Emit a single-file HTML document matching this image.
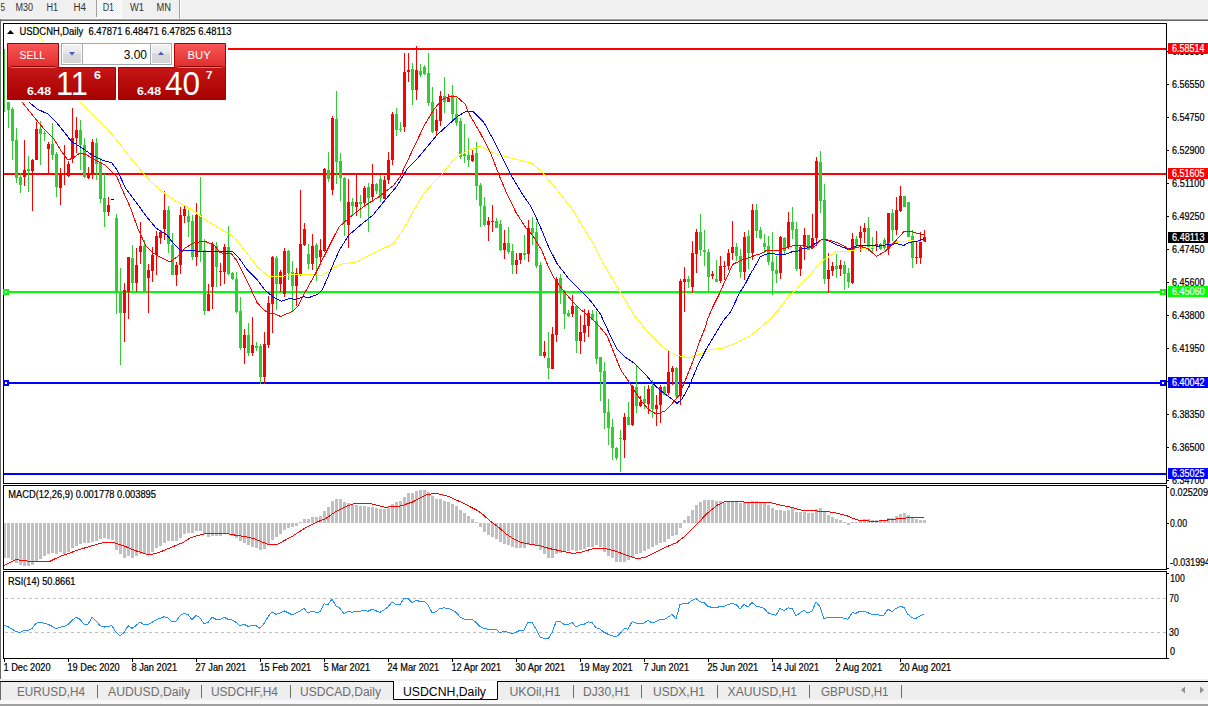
<!DOCTYPE html>
<html><head><meta charset="utf-8"><title>USDCNH,Daily</title>
<style>html,body{margin:0;padding:0;background:#fff;overflow:hidden;}svg{display:block;}</style>
</head><body>
<svg width="1208" height="706" viewBox="0 0 1208 706" font-family="'Liberation Sans', Arial, sans-serif"><rect x="0" y="0" width="1208" height="706" fill="#ffffff" />
<rect x="0" y="0" width="1208" height="18" fill="#f0f0f0" />
<rect x="0" y="18" width="1208" height="1" fill="#f7f7f7" />
<rect x="0" y="19" width="1208" height="1" fill="#a0a0a0" />
<rect x="0" y="20" width="1208" height="1" fill="#696969" />
<defs><pattern id="chk" x="0" y="0" width="2" height="2" patternUnits="userSpaceOnUse"><rect width="2" height="2" fill="#f0f0f0"/><rect width="1" height="1" fill="#ffffff"/><rect x="1" y="1" width="1" height="1" fill="#ffffff"/></pattern></defs>
<rect x="97" y="0" width="24" height="17" fill="url(#chk)" shape-rendering="crispEdges"/>
<rect x="121" y="0" width="1" height="18" fill="#ffffff" />
<rect x="96" y="17" width="26" height="1" fill="#ffffff" />
<rect x="96" y="0" width="1" height="17" fill="#a0a0a0" />
<rect x="179" y="0" width="1" height="19" fill="#a0a0a0" />
<rect x="180" y="0" width="1" height="19" fill="#ffffff" />
<text x="0.5" y="10.9" font-size="10" fill="#333" textLength="4.5" lengthAdjust="spacingAndGlyphs" >5</text>
<text x="15.5" y="10.9" font-size="10" fill="#333" textLength="17.5" lengthAdjust="spacingAndGlyphs" >M30</text>
<text x="46.5" y="10.9" font-size="10" fill="#333" textLength="11.5" lengthAdjust="spacingAndGlyphs" >H1</text>
<text x="73.5" y="10.9" font-size="10" fill="#333" textLength="12.5" lengthAdjust="spacingAndGlyphs" >H4</text>
<text x="102.7" y="10.9" font-size="10" fill="#333" textLength="11.3" lengthAdjust="spacingAndGlyphs" >D1</text>
<text x="130" y="10.9" font-size="10" fill="#333" textLength="14" lengthAdjust="spacingAndGlyphs" >W1</text>
<text x="156.5" y="10.9" font-size="10" fill="#333" textLength="14.5" lengthAdjust="spacingAndGlyphs" >MN</text>
<rect x="0" y="19" width="1" height="661" fill="#696969" />
<rect x="3.5" y="23.5" width="1163" height="460" fill="none" stroke="#000" stroke-width="1"/>
<rect x="3.5" y="485.5" width="1163" height="84" fill="none" stroke="#000" stroke-width="1"/>
<rect x="3.5" y="571.5" width="1163" height="87" fill="none" stroke="#000" stroke-width="1"/>
<defs><clipPath id="cm"><rect x="4" y="24" width="1162" height="459"/></clipPath><clipPath id="cd"><rect x="4" y="486" width="1162" height="83"/></clipPath><clipPath id="cr"><rect x="4" y="572" width="1162" height="86"/></clipPath></defs>
<g clip-path="url(#cm)" shape-rendering="crispEdges">
<rect x="226" y="48" width="941" height="2" fill="#ff0000" />
<rect x="4" y="173" width="1163" height="2" fill="#ff0000" />
<rect x="9" y="291" width="1151" height="2" fill="#00ff00" />
<rect x="9" y="382" width="1151" height="2" fill="#0000ff" />
<rect x="4" y="473" width="1163" height="2" fill="#0000ff" />
<g>
<rect x="8" y="102" width="1" height="26" fill="#32cd32" />
<rect x="7" y="102" width="3" height="8" fill="#32cd32" />
<rect x="12" y="107" width="1" height="53" fill="#32cd32" />
<rect x="11" y="109" width="3" height="32" fill="#32cd32" />
<rect x="16" y="128" width="1" height="55" fill="#32cd32" />
<rect x="15" y="140" width="3" height="38" fill="#32cd32" />
<rect x="20" y="173" width="1" height="20" fill="#32cd32" />
<rect x="19" y="177" width="3" height="8" fill="#32cd32" />
<rect x="24" y="140" width="1" height="46" fill="#ff0000" />
<rect x="23" y="170" width="3" height="7" fill="#ff0000" />
<rect x="28" y="156" width="1" height="36" fill="#32cd32" />
<rect x="27" y="169" width="3" height="2" fill="#32cd32" />
<rect x="32" y="159" width="1" height="52" fill="#ff0000" />
<rect x="31" y="160" width="3" height="11" fill="#ff0000" />
<rect x="36" y="122" width="1" height="38" fill="#ff0000" />
<rect x="35" y="129" width="3" height="31" fill="#ff0000" />
<rect x="40" y="121" width="1" height="44" fill="#32cd32" />
<rect x="39" y="129" width="3" height="5" fill="#32cd32" />
<rect x="44" y="131" width="1" height="10" fill="#32cd32" />
<rect x="43" y="133" width="3" height="1" fill="#32cd32" />
<rect x="48" y="142" width="1" height="31" fill="#ff0000" />
<rect x="47" y="144" width="3" height="5" fill="#ff0000" />
<rect x="52" y="123" width="1" height="37" fill="#32cd32" />
<rect x="51" y="144" width="3" height="11" fill="#32cd32" />
<rect x="56" y="152" width="1" height="45" fill="#32cd32" />
<rect x="55" y="154" width="3" height="33" fill="#32cd32" />
<rect x="60" y="168" width="1" height="37" fill="#ff0000" />
<rect x="59" y="174" width="3" height="14" fill="#ff0000" />
<rect x="64" y="145" width="1" height="40" fill="#ff0000" />
<rect x="63" y="174" width="3" height="1" fill="#ff0000" />
<rect x="68" y="161" width="1" height="16" fill="#ff0000" />
<rect x="67" y="164" width="3" height="12" fill="#ff0000" />
<rect x="72" y="108" width="1" height="55" fill="#ff0000" />
<rect x="71" y="138" width="3" height="21" fill="#ff0000" />
<rect x="76" y="117" width="1" height="36" fill="#ff0000" />
<rect x="75" y="130" width="3" height="8" fill="#ff0000" />
<rect x="80" y="120" width="1" height="50" fill="#32cd32" />
<rect x="79" y="130" width="3" height="15" fill="#32cd32" />
<rect x="84" y="138" width="1" height="40" fill="#32cd32" />
<rect x="83" y="145" width="3" height="32" fill="#32cd32" />
<rect x="88" y="167" width="1" height="12" fill="#ff0000" />
<rect x="87" y="173" width="3" height="5" fill="#ff0000" />
<rect x="92" y="139" width="1" height="40" fill="#ff0000" />
<rect x="91" y="142" width="3" height="32" fill="#ff0000" />
<rect x="96" y="138" width="1" height="42" fill="#32cd32" />
<rect x="95" y="143" width="3" height="21" fill="#32cd32" />
<rect x="100" y="158" width="1" height="45" fill="#32cd32" />
<rect x="99" y="162" width="3" height="37" fill="#32cd32" />
<rect x="104" y="174" width="1" height="53" fill="#32cd32" />
<rect x="103" y="198" width="3" height="14" fill="#32cd32" />
<rect x="108" y="197" width="1" height="19" fill="#ff0000" />
<rect x="107" y="205" width="3" height="7" fill="#ff0000" />
<rect x="116" y="214" width="1" height="100" fill="#32cd32" />
<rect x="115" y="218" width="3" height="75" fill="#32cd32" />
<rect x="120" y="268" width="1" height="97" fill="#32cd32" />
<rect x="119" y="293" width="3" height="20" fill="#32cd32" />
<rect x="124" y="283" width="1" height="59" fill="#ff0000" />
<rect x="123" y="290" width="3" height="23" fill="#ff0000" />
<rect x="128" y="257" width="1" height="62" fill="#ff0000" />
<rect x="127" y="257" width="3" height="35" fill="#ff0000" />
<rect x="132" y="245" width="1" height="47" fill="#32cd32" />
<rect x="131" y="258" width="3" height="25" fill="#32cd32" />
<rect x="136" y="248" width="1" height="44" fill="#ff0000" />
<rect x="135" y="265" width="3" height="18" fill="#ff0000" />
<rect x="140" y="222" width="1" height="42" fill="#ff0000" />
<rect x="139" y="246" width="3" height="6" fill="#ff0000" />
<rect x="144" y="240" width="1" height="53" fill="#32cd32" />
<rect x="143" y="246" width="3" height="46" fill="#32cd32" />
<rect x="148" y="264" width="1" height="49" fill="#ff0000" />
<rect x="147" y="270" width="3" height="8" fill="#ff0000" />
<rect x="152" y="247" width="1" height="35" fill="#ff0000" />
<rect x="151" y="255" width="3" height="16" fill="#ff0000" />
<rect x="156" y="231" width="1" height="44" fill="#ff0000" />
<rect x="155" y="236" width="3" height="19" fill="#ff0000" />
<rect x="160" y="230" width="1" height="14" fill="#ff0000" />
<rect x="159" y="232" width="3" height="6" fill="#ff0000" />
<rect x="164" y="191" width="1" height="49" fill="#ff0000" />
<rect x="163" y="210" width="3" height="19" fill="#ff0000" />
<rect x="168" y="206" width="1" height="47" fill="#32cd32" />
<rect x="167" y="210" width="3" height="34" fill="#32cd32" />
<rect x="172" y="233" width="1" height="42" fill="#32cd32" />
<rect x="171" y="245" width="3" height="30" fill="#32cd32" />
<rect x="176" y="262" width="1" height="24" fill="#ff0000" />
<rect x="175" y="265" width="3" height="10" fill="#ff0000" />
<rect x="180" y="207" width="1" height="67" fill="#ff0000" />
<rect x="179" y="215" width="3" height="50" fill="#ff0000" />
<rect x="184" y="206" width="1" height="17" fill="#ff0000" />
<rect x="183" y="209" width="3" height="7" fill="#ff0000" />
<rect x="188" y="210" width="1" height="27" fill="#32cd32" />
<rect x="187" y="216" width="3" height="6" fill="#32cd32" />
<rect x="192" y="215" width="1" height="45" fill="#32cd32" />
<rect x="191" y="221" width="3" height="36" fill="#32cd32" />
<rect x="196" y="203" width="1" height="63" fill="#ff0000" />
<rect x="195" y="215" width="3" height="42" fill="#ff0000" />
<rect x="200" y="177" width="1" height="85" fill="#32cd32" />
<rect x="199" y="215" width="3" height="36" fill="#32cd32" />
<rect x="204" y="239" width="1" height="76" fill="#32cd32" />
<rect x="203" y="250" width="3" height="61" fill="#32cd32" />
<rect x="208" y="284" width="1" height="27" fill="#ff0000" />
<rect x="207" y="294" width="3" height="17" fill="#ff0000" />
<rect x="212" y="242" width="1" height="67" fill="#ff0000" />
<rect x="211" y="245" width="3" height="42" fill="#ff0000" />
<rect x="216" y="242" width="1" height="45" fill="#32cd32" />
<rect x="215" y="246" width="3" height="21" fill="#32cd32" />
<rect x="220" y="263" width="1" height="23" fill="#ff0000" />
<rect x="219" y="271" width="3" height="1" fill="#ff0000" />
<rect x="224" y="244" width="1" height="40" fill="#ff0000" />
<rect x="223" y="247" width="3" height="25" fill="#ff0000" />
<rect x="228" y="226" width="1" height="49" fill="#32cd32" />
<rect x="227" y="247" width="3" height="27" fill="#32cd32" />
<rect x="232" y="272" width="1" height="8" fill="#32cd32" />
<rect x="231" y="273" width="3" height="6" fill="#32cd32" />
<rect x="236" y="272" width="1" height="41" fill="#32cd32" />
<rect x="235" y="279" width="3" height="33" fill="#32cd32" />
<rect x="240" y="297" width="1" height="53" fill="#32cd32" />
<rect x="239" y="311" width="3" height="37" fill="#32cd32" />
<rect x="244" y="329" width="1" height="35" fill="#ff0000" />
<rect x="243" y="335" width="3" height="13" fill="#ff0000" />
<rect x="248" y="323" width="1" height="33" fill="#32cd32" />
<rect x="247" y="335" width="3" height="18" fill="#32cd32" />
<rect x="252" y="317" width="1" height="39" fill="#ff0000" />
<rect x="251" y="345" width="3" height="8" fill="#ff0000" />
<rect x="256" y="342" width="1" height="9" fill="#32cd32" />
<rect x="255" y="346" width="3" height="2" fill="#32cd32" />
<rect x="260" y="344" width="1" height="40" fill="#32cd32" />
<rect x="259" y="346" width="3" height="31" fill="#32cd32" />
<rect x="264" y="332" width="1" height="52" fill="#ff0000" />
<rect x="263" y="344" width="3" height="33" fill="#ff0000" />
<rect x="268" y="296" width="1" height="52" fill="#ff0000" />
<rect x="267" y="303" width="3" height="42" fill="#ff0000" />
<rect x="272" y="256" width="1" height="77" fill="#ff0000" />
<rect x="271" y="257" width="3" height="47" fill="#ff0000" />
<rect x="276" y="256" width="1" height="54" fill="#32cd32" />
<rect x="275" y="258" width="3" height="26" fill="#32cd32" />
<rect x="280" y="270" width="1" height="22" fill="#ff0000" />
<rect x="279" y="272" width="3" height="12" fill="#ff0000" />
<rect x="284" y="248" width="1" height="49" fill="#ff0000" />
<rect x="283" y="251" width="3" height="43" fill="#ff0000" />
<rect x="288" y="250" width="1" height="30" fill="#32cd32" />
<rect x="287" y="251" width="3" height="22" fill="#32cd32" />
<rect x="292" y="261" width="1" height="51" fill="#32cd32" />
<rect x="291" y="272" width="3" height="14" fill="#32cd32" />
<rect x="296" y="268" width="1" height="38" fill="#ff0000" />
<rect x="295" y="273" width="3" height="13" fill="#ff0000" />
<rect x="300" y="190" width="1" height="86" fill="#ff0000" />
<rect x="299" y="244" width="3" height="31" fill="#ff0000" />
<rect x="304" y="223" width="1" height="23" fill="#ff0000" />
<rect x="303" y="229" width="3" height="16" fill="#ff0000" />
<rect x="308" y="244" width="1" height="25" fill="#32cd32" />
<rect x="307" y="254" width="3" height="10" fill="#32cd32" />
<rect x="312" y="234" width="1" height="36" fill="#ff0000" />
<rect x="311" y="246" width="3" height="18" fill="#ff0000" />
<rect x="316" y="243" width="1" height="38" fill="#32cd32" />
<rect x="315" y="245" width="3" height="13" fill="#32cd32" />
<rect x="320" y="239" width="1" height="24" fill="#ff0000" />
<rect x="319" y="250" width="3" height="7" fill="#ff0000" />
<rect x="324" y="168" width="1" height="84" fill="#ff0000" />
<rect x="323" y="169" width="3" height="82" fill="#ff0000" />
<rect x="328" y="152" width="1" height="30" fill="#32cd32" />
<rect x="327" y="170" width="3" height="9" fill="#32cd32" />
<rect x="332" y="116" width="1" height="79" fill="#ff0000" />
<rect x="331" y="118" width="3" height="72" fill="#ff0000" />
<rect x="336" y="91" width="1" height="93" fill="#32cd32" />
<rect x="335" y="119" width="3" height="43" fill="#32cd32" />
<rect x="340" y="153" width="1" height="48" fill="#32cd32" />
<rect x="339" y="161" width="3" height="17" fill="#32cd32" />
<rect x="344" y="177" width="1" height="59" fill="#32cd32" />
<rect x="343" y="178" width="3" height="44" fill="#32cd32" />
<rect x="348" y="179" width="1" height="69" fill="#ff0000" />
<rect x="347" y="202" width="3" height="23" fill="#ff0000" />
<rect x="352" y="198" width="1" height="18" fill="#32cd32" />
<rect x="351" y="202" width="3" height="4" fill="#32cd32" />
<rect x="356" y="175" width="1" height="41" fill="#ff0000" />
<rect x="355" y="202" width="3" height="5" fill="#ff0000" />
<rect x="360" y="195" width="1" height="23" fill="#32cd32" />
<rect x="359" y="202" width="3" height="2" fill="#32cd32" />
<rect x="364" y="186" width="1" height="21" fill="#ff0000" />
<rect x="363" y="188" width="3" height="15" fill="#ff0000" />
<rect x="368" y="183" width="1" height="49" fill="#32cd32" />
<rect x="367" y="187" width="3" height="11" fill="#32cd32" />
<rect x="372" y="164" width="1" height="38" fill="#ff0000" />
<rect x="371" y="184" width="3" height="13" fill="#ff0000" />
<rect x="376" y="183" width="1" height="11" fill="#32cd32" />
<rect x="375" y="184" width="3" height="7" fill="#32cd32" />
<rect x="380" y="175" width="1" height="27" fill="#32cd32" />
<rect x="379" y="179" width="3" height="19" fill="#32cd32" />
<rect x="384" y="176" width="1" height="23" fill="#ff0000" />
<rect x="383" y="180" width="3" height="19" fill="#ff0000" />
<rect x="388" y="152" width="1" height="32" fill="#ff0000" />
<rect x="387" y="160" width="3" height="20" fill="#ff0000" />
<rect x="392" y="112" width="1" height="53" fill="#ff0000" />
<rect x="391" y="114" width="3" height="46" fill="#ff0000" />
<rect x="396" y="108" width="1" height="28" fill="#32cd32" />
<rect x="395" y="114" width="3" height="16" fill="#32cd32" />
<rect x="400" y="122" width="1" height="10" fill="#32cd32" />
<rect x="399" y="129" width="3" height="1" fill="#32cd32" />
<rect x="404" y="53" width="1" height="79" fill="#ff0000" />
<rect x="403" y="72" width="3" height="55" fill="#ff0000" />
<rect x="408" y="53" width="1" height="29" fill="#ff0000" />
<rect x="407" y="70" width="3" height="2" fill="#ff0000" />
<rect x="412" y="63" width="1" height="42" fill="#32cd32" />
<rect x="411" y="69" width="3" height="21" fill="#32cd32" />
<rect x="416" y="46" width="1" height="54" fill="#ff0000" />
<rect x="415" y="70" width="3" height="20" fill="#ff0000" />
<rect x="420" y="64" width="1" height="13" fill="#32cd32" />
<rect x="419" y="71" width="3" height="4" fill="#32cd32" />
<rect x="424" y="65" width="1" height="10" fill="#32cd32" />
<rect x="423" y="67" width="3" height="7" fill="#32cd32" />
<rect x="428" y="53" width="1" height="53" fill="#32cd32" />
<rect x="427" y="73" width="3" height="30" fill="#32cd32" />
<rect x="432" y="87" width="1" height="46" fill="#32cd32" />
<rect x="431" y="102" width="3" height="30" fill="#32cd32" />
<rect x="436" y="109" width="1" height="26" fill="#ff0000" />
<rect x="435" y="120" width="3" height="11" fill="#ff0000" />
<rect x="440" y="91" width="1" height="35" fill="#ff0000" />
<rect x="439" y="96" width="3" height="25" fill="#ff0000" />
<rect x="444" y="77" width="1" height="36" fill="#32cd32" />
<rect x="443" y="96" width="3" height="6" fill="#32cd32" />
<rect x="448" y="94" width="1" height="8" fill="#ff0000" />
<rect x="447" y="98" width="3" height="4" fill="#ff0000" />
<rect x="452" y="85" width="1" height="36" fill="#32cd32" />
<rect x="451" y="95" width="3" height="19" fill="#32cd32" />
<rect x="456" y="98" width="1" height="28" fill="#32cd32" />
<rect x="455" y="114" width="3" height="9" fill="#32cd32" />
<rect x="460" y="118" width="1" height="41" fill="#32cd32" />
<rect x="459" y="121" width="3" height="36" fill="#32cd32" />
<rect x="464" y="124" width="1" height="39" fill="#32cd32" />
<rect x="463" y="154" width="3" height="2" fill="#32cd32" />
<rect x="468" y="138" width="1" height="29" fill="#32cd32" />
<rect x="467" y="155" width="3" height="5" fill="#32cd32" />
<rect x="472" y="150" width="1" height="12" fill="#ff0000" />
<rect x="471" y="155" width="3" height="6" fill="#ff0000" />
<rect x="476" y="142" width="1" height="58" fill="#32cd32" />
<rect x="475" y="153" width="3" height="33" fill="#32cd32" />
<rect x="480" y="183" width="1" height="44" fill="#32cd32" />
<rect x="479" y="185" width="3" height="21" fill="#32cd32" />
<rect x="484" y="197" width="1" height="29" fill="#32cd32" />
<rect x="483" y="206" width="3" height="19" fill="#32cd32" />
<rect x="488" y="217" width="1" height="24" fill="#ff0000" />
<rect x="487" y="221" width="3" height="4" fill="#ff0000" />
<rect x="492" y="205" width="1" height="27" fill="#ff0000" />
<rect x="491" y="221" width="3" height="1" fill="#ff0000" />
<rect x="496" y="218" width="1" height="10" fill="#32cd32" />
<rect x="495" y="221" width="3" height="7" fill="#32cd32" />
<rect x="500" y="220" width="1" height="31" fill="#32cd32" />
<rect x="499" y="224" width="3" height="26" fill="#32cd32" />
<rect x="504" y="230" width="1" height="29" fill="#ff0000" />
<rect x="503" y="243" width="3" height="7" fill="#ff0000" />
<rect x="508" y="227" width="1" height="27" fill="#32cd32" />
<rect x="507" y="243" width="3" height="9" fill="#32cd32" />
<rect x="512" y="244" width="1" height="30" fill="#32cd32" />
<rect x="511" y="251" width="3" height="14" fill="#32cd32" />
<rect x="516" y="253" width="1" height="21" fill="#ff0000" />
<rect x="515" y="260" width="3" height="5" fill="#ff0000" />
<rect x="520" y="253" width="1" height="11" fill="#ff0000" />
<rect x="519" y="253" width="3" height="7" fill="#ff0000" />
<rect x="524" y="235" width="1" height="25" fill="#32cd32" />
<rect x="523" y="253" width="3" height="2" fill="#32cd32" />
<rect x="528" y="220" width="1" height="42" fill="#ff0000" />
<rect x="527" y="228" width="3" height="26" fill="#ff0000" />
<rect x="532" y="217" width="1" height="28" fill="#32cd32" />
<rect x="531" y="228" width="3" height="5" fill="#32cd32" />
<rect x="536" y="222" width="1" height="46" fill="#32cd32" />
<rect x="535" y="232" width="3" height="34" fill="#32cd32" />
<rect x="540" y="262" width="1" height="94" fill="#32cd32" />
<rect x="539" y="265" width="3" height="91" fill="#32cd32" />
<rect x="544" y="341" width="1" height="17" fill="#ff0000" />
<rect x="543" y="352" width="3" height="4" fill="#ff0000" />
<rect x="548" y="332" width="1" height="47" fill="#32cd32" />
<rect x="547" y="358" width="3" height="10" fill="#32cd32" />
<rect x="552" y="327" width="1" height="42" fill="#ff0000" />
<rect x="551" y="334" width="3" height="35" fill="#ff0000" />
<rect x="556" y="277" width="1" height="65" fill="#ff0000" />
<rect x="555" y="279" width="3" height="56" fill="#ff0000" />
<rect x="560" y="274" width="1" height="30" fill="#32cd32" />
<rect x="559" y="278" width="3" height="14" fill="#32cd32" />
<rect x="564" y="290" width="1" height="39" fill="#32cd32" />
<rect x="563" y="292" width="3" height="22" fill="#32cd32" />
<rect x="568" y="310" width="1" height="7" fill="#32cd32" />
<rect x="567" y="313" width="3" height="3" fill="#32cd32" />
<rect x="572" y="295" width="1" height="22" fill="#ff0000" />
<rect x="571" y="306" width="3" height="8" fill="#ff0000" />
<rect x="576" y="305" width="1" height="48" fill="#32cd32" />
<rect x="575" y="306" width="3" height="35" fill="#32cd32" />
<rect x="580" y="315" width="1" height="39" fill="#ff0000" />
<rect x="579" y="332" width="3" height="9" fill="#ff0000" />
<rect x="584" y="309" width="1" height="33" fill="#ff0000" />
<rect x="583" y="325" width="3" height="8" fill="#ff0000" />
<rect x="588" y="310" width="1" height="27" fill="#ff0000" />
<rect x="587" y="313" width="3" height="13" fill="#ff0000" />
<rect x="592" y="310" width="1" height="10" fill="#32cd32" />
<rect x="591" y="314" width="3" height="6" fill="#32cd32" />
<rect x="596" y="311" width="1" height="53" fill="#32cd32" />
<rect x="595" y="321" width="3" height="38" fill="#32cd32" />
<rect x="600" y="357" width="1" height="44" fill="#32cd32" />
<rect x="599" y="357" width="3" height="15" fill="#32cd32" />
<rect x="604" y="362" width="1" height="67" fill="#32cd32" />
<rect x="603" y="371" width="3" height="42" fill="#32cd32" />
<rect x="608" y="399" width="1" height="46" fill="#32cd32" />
<rect x="607" y="412" width="3" height="16" fill="#32cd32" />
<rect x="612" y="419" width="1" height="41" fill="#32cd32" />
<rect x="611" y="427" width="3" height="21" fill="#32cd32" />
<rect x="616" y="447" width="1" height="13" fill="#32cd32" />
<rect x="615" y="448" width="3" height="10" fill="#32cd32" />
<rect x="620" y="430" width="1" height="42" fill="#32cd32" />
<rect x="619" y="438" width="3" height="1" fill="#32cd32" />
<rect x="624" y="413" width="1" height="45" fill="#ff0000" />
<rect x="623" y="417" width="3" height="23" fill="#ff0000" />
<rect x="628" y="402" width="1" height="23" fill="#32cd32" />
<rect x="627" y="417" width="3" height="8" fill="#32cd32" />
<rect x="632" y="385" width="1" height="41" fill="#ff0000" />
<rect x="631" y="386" width="3" height="39" fill="#ff0000" />
<rect x="636" y="366" width="1" height="47" fill="#32cd32" />
<rect x="635" y="387" width="3" height="19" fill="#32cd32" />
<rect x="640" y="396" width="1" height="11" fill="#ff0000" />
<rect x="639" y="402" width="3" height="4" fill="#ff0000" />
<rect x="644" y="386" width="1" height="23" fill="#32cd32" />
<rect x="643" y="399" width="3" height="4" fill="#32cd32" />
<rect x="648" y="385" width="1" height="29" fill="#ff0000" />
<rect x="647" y="389" width="3" height="15" fill="#ff0000" />
<rect x="652" y="380" width="1" height="38" fill="#32cd32" />
<rect x="651" y="386" width="3" height="23" fill="#32cd32" />
<rect x="656" y="395" width="1" height="31" fill="#ff0000" />
<rect x="655" y="405" width="3" height="4" fill="#ff0000" />
<rect x="660" y="385" width="1" height="38" fill="#ff0000" />
<rect x="659" y="387" width="3" height="18" fill="#ff0000" />
<rect x="664" y="386" width="1" height="9" fill="#32cd32" />
<rect x="663" y="387" width="3" height="8" fill="#32cd32" />
<rect x="668" y="350" width="1" height="45" fill="#ff0000" />
<rect x="667" y="372" width="3" height="21" fill="#ff0000" />
<rect x="672" y="366" width="1" height="19" fill="#ff0000" />
<rect x="671" y="368" width="3" height="4" fill="#ff0000" />
<rect x="676" y="367" width="1" height="30" fill="#32cd32" />
<rect x="675" y="368" width="3" height="28" fill="#32cd32" />
<rect x="680" y="279" width="1" height="126" fill="#ff0000" />
<rect x="679" y="281" width="3" height="115" fill="#ff0000" />
<rect x="684" y="267" width="1" height="45" fill="#ff0000" />
<rect x="683" y="279" width="3" height="3" fill="#ff0000" />
<rect x="688" y="276" width="1" height="12" fill="#32cd32" />
<rect x="687" y="279" width="3" height="3" fill="#32cd32" />
<rect x="692" y="241" width="1" height="52" fill="#ff0000" />
<rect x="691" y="253" width="3" height="34" fill="#ff0000" />
<rect x="696" y="229" width="1" height="44" fill="#ff0000" />
<rect x="695" y="232" width="3" height="22" fill="#ff0000" />
<rect x="700" y="214" width="1" height="42" fill="#32cd32" />
<rect x="699" y="232" width="3" height="18" fill="#32cd32" />
<rect x="704" y="230" width="1" height="36" fill="#32cd32" />
<rect x="703" y="250" width="3" height="2" fill="#32cd32" />
<rect x="708" y="249" width="1" height="43" fill="#32cd32" />
<rect x="707" y="252" width="3" height="25" fill="#32cd32" />
<rect x="712" y="271" width="1" height="8" fill="#ff0000" />
<rect x="711" y="274" width="3" height="2" fill="#ff0000" />
<rect x="716" y="260" width="1" height="22" fill="#32cd32" />
<rect x="715" y="279" width="3" height="3" fill="#32cd32" />
<rect x="720" y="256" width="1" height="27" fill="#ff0000" />
<rect x="719" y="266" width="3" height="15" fill="#ff0000" />
<rect x="724" y="261" width="1" height="19" fill="#ff0000" />
<rect x="723" y="266" width="3" height="1" fill="#ff0000" />
<rect x="728" y="249" width="1" height="21" fill="#ff0000" />
<rect x="727" y="253" width="3" height="13" fill="#ff0000" />
<rect x="732" y="221" width="1" height="39" fill="#ff0000" />
<rect x="731" y="247" width="3" height="6" fill="#ff0000" />
<rect x="736" y="243" width="1" height="18" fill="#32cd32" />
<rect x="735" y="247" width="3" height="9" fill="#32cd32" />
<rect x="740" y="249" width="1" height="29" fill="#32cd32" />
<rect x="739" y="256" width="3" height="16" fill="#32cd32" />
<rect x="744" y="232" width="1" height="48" fill="#ff0000" />
<rect x="743" y="237" width="3" height="35" fill="#ff0000" />
<rect x="748" y="230" width="1" height="39" fill="#32cd32" />
<rect x="747" y="236" width="3" height="17" fill="#32cd32" />
<rect x="752" y="204" width="1" height="56" fill="#ff0000" />
<rect x="751" y="210" width="3" height="43" fill="#ff0000" />
<rect x="756" y="204" width="1" height="34" fill="#32cd32" />
<rect x="755" y="210" width="3" height="21" fill="#32cd32" />
<rect x="760" y="227" width="1" height="12" fill="#32cd32" />
<rect x="759" y="230" width="3" height="8" fill="#32cd32" />
<rect x="764" y="234" width="1" height="19" fill="#32cd32" />
<rect x="763" y="243" width="3" height="4" fill="#32cd32" />
<rect x="768" y="236" width="1" height="29" fill="#32cd32" />
<rect x="767" y="246" width="3" height="16" fill="#32cd32" />
<rect x="772" y="232" width="1" height="63" fill="#32cd32" />
<rect x="771" y="262" width="3" height="9" fill="#32cd32" />
<rect x="776" y="256" width="1" height="27" fill="#32cd32" />
<rect x="775" y="270" width="3" height="4" fill="#32cd32" />
<rect x="780" y="236" width="1" height="43" fill="#ff0000" />
<rect x="779" y="237" width="3" height="36" fill="#ff0000" />
<rect x="784" y="237" width="1" height="17" fill="#32cd32" />
<rect x="783" y="238" width="3" height="13" fill="#32cd32" />
<rect x="788" y="212" width="1" height="37" fill="#ff0000" />
<rect x="787" y="222" width="3" height="25" fill="#ff0000" />
<rect x="792" y="207" width="1" height="32" fill="#32cd32" />
<rect x="791" y="222" width="3" height="8" fill="#32cd32" />
<rect x="796" y="222" width="1" height="49" fill="#32cd32" />
<rect x="795" y="229" width="3" height="40" fill="#32cd32" />
<rect x="800" y="246" width="1" height="30" fill="#ff0000" />
<rect x="799" y="247" width="3" height="22" fill="#ff0000" />
<rect x="804" y="228" width="1" height="32" fill="#ff0000" />
<rect x="803" y="235" width="3" height="12" fill="#ff0000" />
<rect x="808" y="235" width="1" height="15" fill="#32cd32" />
<rect x="807" y="235" width="3" height="15" fill="#32cd32" />
<rect x="812" y="214" width="1" height="34" fill="#ff0000" />
<rect x="811" y="238" width="3" height="10" fill="#ff0000" />
<rect x="816" y="157" width="1" height="89" fill="#ff0000" />
<rect x="815" y="161" width="3" height="77" fill="#ff0000" />
<rect x="820" y="151" width="1" height="62" fill="#32cd32" />
<rect x="819" y="162" width="3" height="39" fill="#32cd32" />
<rect x="824" y="184" width="1" height="100" fill="#32cd32" />
<rect x="823" y="200" width="3" height="79" fill="#32cd32" />
<rect x="828" y="253" width="1" height="40" fill="#ff0000" />
<rect x="827" y="270" width="3" height="9" fill="#ff0000" />
<rect x="832" y="262" width="1" height="14" fill="#ff0000" />
<rect x="831" y="266" width="3" height="5" fill="#ff0000" />
<rect x="836" y="254" width="1" height="24" fill="#32cd32" />
<rect x="835" y="266" width="3" height="3" fill="#32cd32" />
<rect x="840" y="260" width="1" height="16" fill="#ff0000" />
<rect x="839" y="265" width="3" height="4" fill="#ff0000" />
<rect x="844" y="261" width="1" height="29" fill="#32cd32" />
<rect x="843" y="265" width="3" height="9" fill="#32cd32" />
<rect x="848" y="268" width="1" height="20" fill="#32cd32" />
<rect x="847" y="273" width="3" height="9" fill="#32cd32" />
<rect x="852" y="233" width="1" height="51" fill="#ff0000" />
<rect x="851" y="239" width="3" height="44" fill="#ff0000" />
<rect x="856" y="236" width="1" height="11" fill="#32cd32" />
<rect x="855" y="239" width="3" height="6" fill="#32cd32" />
<rect x="860" y="226" width="1" height="26" fill="#ff0000" />
<rect x="859" y="232" width="3" height="6" fill="#ff0000" />
<rect x="864" y="223" width="1" height="20" fill="#ff0000" />
<rect x="863" y="228" width="3" height="4" fill="#ff0000" />
<rect x="868" y="217" width="1" height="34" fill="#32cd32" />
<rect x="867" y="228" width="3" height="19" fill="#32cd32" />
<rect x="872" y="237" width="1" height="17" fill="#32cd32" />
<rect x="871" y="247" width="3" height="2" fill="#32cd32" />
<rect x="876" y="231" width="1" height="20" fill="#ff0000" />
<rect x="875" y="244" width="3" height="3" fill="#ff0000" />
<rect x="880" y="243" width="1" height="7" fill="#32cd32" />
<rect x="879" y="244" width="3" height="5" fill="#32cd32" />
<rect x="884" y="238" width="1" height="12" fill="#32cd32" />
<rect x="883" y="240" width="3" height="8" fill="#32cd32" />
<rect x="888" y="213" width="1" height="42" fill="#ff0000" />
<rect x="887" y="213" width="3" height="36" fill="#ff0000" />
<rect x="892" y="209" width="1" height="32" fill="#32cd32" />
<rect x="891" y="213" width="3" height="17" fill="#32cd32" />
<rect x="896" y="197" width="1" height="38" fill="#ff0000" />
<rect x="895" y="210" width="3" height="20" fill="#ff0000" />
<rect x="900" y="186" width="1" height="26" fill="#ff0000" />
<rect x="899" y="196" width="3" height="15" fill="#ff0000" />
<rect x="904" y="196" width="1" height="11" fill="#32cd32" />
<rect x="903" y="196" width="3" height="11" fill="#32cd32" />
<rect x="908" y="202" width="1" height="35" fill="#32cd32" />
<rect x="907" y="202" width="3" height="35" fill="#32cd32" />
<rect x="912" y="230" width="1" height="38" fill="#32cd32" />
<rect x="911" y="236" width="3" height="22" fill="#32cd32" />
<rect x="916" y="242" width="1" height="22" fill="#ff0000" />
<rect x="915" y="257" width="3" height="1" fill="#ff0000" />
<rect x="920" y="232" width="1" height="32" fill="#ff0000" />
<rect x="919" y="241" width="3" height="17" fill="#ff0000" />
<rect x="924" y="230" width="1" height="12" fill="#ff0000" />
<rect x="923" y="237" width="3" height="5" fill="#ff0000" />
</g>
<rect x="4" y="49" width="1" height="63" fill="#32cd32" />
<rect x="111" y="199" width="3" height="1" fill="#000" />
</g>
<polyline points="33,24 42,40 80,102 92,114 105,127 116,139 129,156 143,173 153,184 163,192 177,202 185,206 194,211 207,221 221,229 234,237 245.5,251.5 258.3,268 268.5,276.4 277.4,277 290,275 303,274.4 314.4,274.2 320.8,275.5 328.4,272 334.8,266.8 342,264 356,262 366,257 380,250 393,244 403,230 414,210 424,193 434,182 444,172 454,159 460,154.6 470,149.5 480.4,146 494,153 511,158 531.4,163 541.6,171.6 558.6,192 572,209 582.4,226 593.6,244.2 603.8,264.6 614,281.6 624.2,298.6 634.4,315.6 648,332.6 661.6,346.3 675.2,354.8 688.8,358 699,354.8 709.3,349.7 722.9,348 736.5,342.9 750,336 760.3,327.6 769,320 779.3,309 789.5,295 795.9,290 804.8,279.7 809.9,275.9 816.3,267 822.7,260.6 827.8,257.4 830,256.1 835.9,251.7 847.8,251 858,249.6 868.1,247.9 878.3,246.2 888.5,244.2 898.7,242 908.9,240.8 919.1,241.2 924.2,242" fill="none" stroke="#ffff00" stroke-width="1" clip-path="url(#cm)" shape-rendering="crispEdges"/>
<polyline points="29,102 37,109 48,114 56,122 65,133 71,141 82,148 92,155 102,160 112,163 117,170 126,189 136,202 146,216 156,228 167,235 173,243 180,250 190,250.5 204,251.6 220,251.5 232.8,252 239,257.9 246.8,269.3 257,279.5 264.6,289.7 273.6,297.4 281.2,301.2 288.9,298.7 296.5,299.3 302.9,296.8 309.3,297.4 317,294.8 322,290.4 328.4,275.7 334.8,260.4 340,249 349,235 363,223 373,215 386,199 397,186 407,169 417,159 427,147 437,135 448,125 458,116 466.8,111 473.6,112 483.8,122.3 494,141 502.5,158 511,175 521,192 531.4,207.3 540,226 548.4,246.5 557,263.5 568.8,278.8 580,290 590,300.3 600.4,314 609,332.6 617.4,349.7 624.2,356.5 634.4,363.3 644.6,373.5 654.8,385.4 665,394 671.8,399 677,403.4 682,399 688.8,387 697.3,366.7 705.9,349.7 723.8,320 730.8,311.6 739.7,292.5 744.8,284.8 750,274.6 755,266.4 760.2,256.8 763.3,255.3 767.8,253.6 772.9,253.6 778,254.5 783.1,254.9 788.2,253.2 793.3,251.4 798.4,251 802.2,248.9 807.3,247.9 812.4,245.3 817.6,242.1 821.4,239.6 826.5,240 830,241.5 835.9,244.5 848.6,249.6 854.5,246.2 861.3,245.4 869.8,245.4 878.3,246.2 888.5,244.5 897,243.7 903.8,245.4 908.9,242.5 917.4,241.2 924.2,238.6" fill="none" stroke="#0000ff" stroke-width="1" clip-path="url(#cm)" shape-rendering="crispEdges"/>
<polyline points="22,102 34,117 44,129 54,139 61,151 68,160 73,158 80,153 87,155 95,160 105,165 112,172 117,177 122,189 131,209 138,229 146,246 153,253 160,257 170,262 177,257 185,248 194,243 204,241 214,245 220,252.8 231.5,254 236.6,260.4 243,273.2 250.6,288.5 257,302.5 263.4,309.5 268.5,313.3 274.8,314 280.6,316.5 286.3,314 292.7,311.4 297.8,306.3 303,296 309.3,284.6 315.7,273.2 322,260.4 328.4,247.7 332.2,240 339,227 349,218 359,210 369,203 380,196 386,191 393,186 400,177 407,162 415,145 424,126 434,109 443,99 451,96 456,96 465,104 470,115.5 480,132.5 490.6,153 499,175 507.6,195.4 516,212.4 524.6,226 533,236 541.6,250 548.4,267 553.5,277 562,289 572,301 580,309 590,317 600.4,327.6 607.2,336 614,353 620.8,370 627.6,380 634.4,390.5 641.2,400.7 648,409 656.5,414.3 665,411 671.8,404 678.6,395.6 685.4,380 692.2,363 699,343 705.9,325.9 707.2,320 713,306.5 719.3,293.8 724.4,282.3 728.3,274.6 730.8,268.3 733.4,263.8 738.5,261.9 743.6,259.3 750,257.4 756.3,254.9 761.4,253.6 766.5,250.4 771.6,250.4 776.7,251 781.8,249.1 786.9,247.9 792,246 798.4,245.3 803.5,245.9 808.6,247.2 812.4,248.5 816.3,244.7 820.1,240.2 825.2,239.2 830,240.5 837.6,242.8 844.4,246.2 849.5,249.6 854.5,248 861.3,246.6 868.1,248.8 876.6,256.4 885.1,251.3 895.3,241.2 903.8,231.8 912.3,231.8 917.4,233.5 924.2,234.4" fill="none" stroke="#ff0000" stroke-width="1" clip-path="url(#cm)" shape-rendering="crispEdges"/>
<rect x="3" y="289" width="6" height="6" fill="#00ff00" shape-rendering="crispEdges"/><rect x="5" y="291" width="2" height="2" fill="#fff" shape-rendering="crispEdges"/>
<rect x="1160" y="289" width="6" height="6" fill="#00ff00" shape-rendering="crispEdges"/><rect x="1162" y="291" width="2" height="2" fill="#fff" shape-rendering="crispEdges"/>
<rect x="3" y="380" width="6" height="6" fill="#0000ff" shape-rendering="crispEdges"/><rect x="5" y="382" width="2" height="2" fill="#fff" shape-rendering="crispEdges"/>
<rect x="1160" y="380" width="6" height="6" fill="#0000ff" shape-rendering="crispEdges"/><rect x="1162" y="382" width="2" height="2" fill="#fff" shape-rendering="crispEdges"/>
<rect x="1167" y="51" width="2" height="1" fill="#000" />
<text x="1172" y="55.0" font-size="10" fill="#000" stroke="#000" stroke-width="0.2" textLength="32.5" lengthAdjust="spacingAndGlyphs" >6.58350</text>
<rect x="1167" y="84" width="2" height="1" fill="#000" />
<text x="1172" y="88.0" font-size="10" fill="#000" stroke="#000" stroke-width="0.2" textLength="32.5" lengthAdjust="spacingAndGlyphs" >6.56550</text>
<rect x="1167" y="117" width="2" height="1" fill="#000" />
<text x="1172" y="120.5" font-size="10" fill="#000" stroke="#000" stroke-width="0.2" textLength="32.5" lengthAdjust="spacingAndGlyphs" >6.54750</text>
<rect x="1167" y="150" width="2" height="1" fill="#000" />
<text x="1172" y="154.0" font-size="10" fill="#000" stroke="#000" stroke-width="0.2" textLength="32.5" lengthAdjust="spacingAndGlyphs" >6.52900</text>
<rect x="1167" y="183" width="2" height="1" fill="#000" />
<text x="1172" y="186.5" font-size="10" fill="#000" stroke="#000" stroke-width="0.2" textLength="32.5" lengthAdjust="spacingAndGlyphs" >6.51100</text>
<rect x="1167" y="216" width="2" height="1" fill="#000" />
<text x="1172" y="220.0" font-size="10" fill="#000" stroke="#000" stroke-width="0.2" textLength="32.5" lengthAdjust="spacingAndGlyphs" >6.49250</text>
<rect x="1167" y="249" width="2" height="1" fill="#000" />
<text x="1172" y="252.5" font-size="10" fill="#000" stroke="#000" stroke-width="0.2" textLength="32.5" lengthAdjust="spacingAndGlyphs" >6.47450</text>
<rect x="1167" y="282" width="2" height="1" fill="#000" />
<text x="1172" y="286.0" font-size="10" fill="#000" stroke="#000" stroke-width="0.2" textLength="32.5" lengthAdjust="spacingAndGlyphs" >6.45600</text>
<rect x="1167" y="315" width="2" height="1" fill="#000" />
<text x="1172" y="318.5" font-size="10" fill="#000" stroke="#000" stroke-width="0.2" textLength="32.5" lengthAdjust="spacingAndGlyphs" >6.43800</text>
<rect x="1167" y="348" width="2" height="1" fill="#000" />
<text x="1172" y="352.0" font-size="10" fill="#000" stroke="#000" stroke-width="0.2" textLength="32.5" lengthAdjust="spacingAndGlyphs" >6.41950</text>
<rect x="1167" y="381" width="2" height="1" fill="#000" />
<text x="1172" y="384.5" font-size="10" fill="#000" stroke="#000" stroke-width="0.2" textLength="32.5" lengthAdjust="spacingAndGlyphs" >6.40150</text>
<rect x="1167" y="414" width="2" height="1" fill="#000" />
<text x="1172" y="417.5" font-size="10" fill="#000" stroke="#000" stroke-width="0.2" textLength="32.5" lengthAdjust="spacingAndGlyphs" >6.38350</text>
<rect x="1167" y="447" width="2" height="1" fill="#000" />
<text x="1172" y="450.5" font-size="10" fill="#000" stroke="#000" stroke-width="0.2" textLength="32.5" lengthAdjust="spacingAndGlyphs" >6.36500</text>
<rect x="1167" y="480" width="2" height="1" fill="#000" />
<text x="1172" y="483.5" font-size="10" fill="#000" stroke="#000" stroke-width="0.2" textLength="32.5" lengthAdjust="spacingAndGlyphs" >6.34700</text>
<rect x="1168" y="43" width="40" height="11" fill="#ff0000" />
<text x="1172" y="51.8" font-size="10" fill="#fff" stroke="#fff" stroke-width="0.2" textLength="32.5" lengthAdjust="spacingAndGlyphs" >6.58514</text>
<rect x="1168" y="168" width="40" height="11" fill="#ff0000" />
<text x="1172" y="176.8" font-size="10" fill="#fff" stroke="#fff" stroke-width="0.2" textLength="32.5" lengthAdjust="spacingAndGlyphs" >6.51605</text>
<rect x="1168" y="232" width="40" height="11" fill="#000000" />
<text x="1172" y="240.8" font-size="10" fill="#fff" stroke="#fff" stroke-width="0.2" textLength="32.5" lengthAdjust="spacingAndGlyphs" >6.48113</text>
<rect x="1168" y="286" width="40" height="11" fill="#00ff00" />
<text x="1172" y="294.8" font-size="10" fill="#fff" stroke="#fff" stroke-width="0.2" textLength="32.5" lengthAdjust="spacingAndGlyphs" >6.45060</text>
<rect x="1168" y="377" width="40" height="11" fill="#0000ff" />
<text x="1172" y="385.8" font-size="10" fill="#fff" stroke="#fff" stroke-width="0.2" textLength="32.5" lengthAdjust="spacingAndGlyphs" >6.40042</text>
<rect x="1168" y="468" width="40" height="11" fill="#0000ff" />
<text x="1172" y="476.8" font-size="10" fill="#fff" stroke="#fff" stroke-width="0.2" textLength="32.5" lengthAdjust="spacingAndGlyphs" >6.35025</text>
<path d="M7,34 L10.5,30 L14,34 Z" fill="#000"/>
<text x="19.5" y="35" font-size="10" fill="#000" stroke="#000" stroke-width="0.2" textLength="212" lengthAdjust="spacingAndGlyphs" >USDCNH,Daily&#160;&#160;6.47871 6.48471 6.47825 6.48113</text>
<g clip-path="url(#cd)" shape-rendering="crispEdges">
<rect x="3" y="523" width="3" height="35" fill="#c0c0c0" />
<rect x="7" y="523" width="3" height="35" fill="#c0c0c0" />
<rect x="11" y="523" width="3" height="37" fill="#c0c0c0" />
<rect x="15" y="523" width="3" height="40" fill="#c0c0c0" />
<rect x="19" y="523" width="3" height="42" fill="#c0c0c0" />
<rect x="23" y="523" width="3" height="43" fill="#c0c0c0" />
<rect x="27" y="523" width="3" height="43" fill="#c0c0c0" />
<rect x="31" y="523" width="3" height="42" fill="#c0c0c0" />
<rect x="35" y="523" width="3" height="38" fill="#c0c0c0" />
<rect x="39" y="523" width="3" height="36" fill="#c0c0c0" />
<rect x="43" y="523" width="3" height="33" fill="#c0c0c0" />
<rect x="47" y="523" width="3" height="31" fill="#c0c0c0" />
<rect x="51" y="523" width="3" height="30" fill="#c0c0c0" />
<rect x="55" y="523" width="3" height="31" fill="#c0c0c0" />
<rect x="59" y="523" width="3" height="29" fill="#c0c0c0" />
<rect x="63" y="523" width="3" height="31" fill="#c0c0c0" />
<rect x="67" y="523" width="3" height="29" fill="#c0c0c0" />
<rect x="71" y="523" width="3" height="25" fill="#c0c0c0" />
<rect x="75" y="523" width="3" height="23" fill="#c0c0c0" />
<rect x="79" y="523" width="3" height="21" fill="#c0c0c0" />
<rect x="83" y="523" width="3" height="20" fill="#c0c0c0" />
<rect x="87" y="523" width="3" height="20" fill="#c0c0c0" />
<rect x="91" y="523" width="3" height="19" fill="#c0c0c0" />
<rect x="95" y="523" width="3" height="18" fill="#c0c0c0" />
<rect x="99" y="523" width="3" height="16" fill="#c0c0c0" />
<rect x="103" y="523" width="3" height="15" fill="#c0c0c0" />
<rect x="107" y="523" width="3" height="16" fill="#c0c0c0" />
<rect x="111" y="523" width="3" height="17" fill="#c0c0c0" />
<rect x="115" y="523" width="3" height="27" fill="#c0c0c0" />
<rect x="119" y="523" width="3" height="31" fill="#c0c0c0" />
<rect x="123" y="523" width="3" height="35" fill="#c0c0c0" />
<rect x="127" y="523" width="3" height="33" fill="#c0c0c0" />
<rect x="131" y="523" width="3" height="35" fill="#c0c0c0" />
<rect x="135" y="523" width="3" height="33" fill="#c0c0c0" />
<rect x="139" y="523" width="3" height="31" fill="#c0c0c0" />
<rect x="143" y="523" width="3" height="31" fill="#c0c0c0" />
<rect x="147" y="523" width="3" height="31" fill="#c0c0c0" />
<rect x="151" y="523" width="3" height="29" fill="#c0c0c0" />
<rect x="155" y="523" width="3" height="25" fill="#c0c0c0" />
<rect x="159" y="523" width="3" height="23" fill="#c0c0c0" />
<rect x="163" y="523" width="3" height="20" fill="#c0c0c0" />
<rect x="167" y="523" width="3" height="18" fill="#c0c0c0" />
<rect x="171" y="523" width="3" height="18" fill="#c0c0c0" />
<rect x="175" y="523" width="3" height="18" fill="#c0c0c0" />
<rect x="179" y="523" width="3" height="15" fill="#c0c0c0" />
<rect x="183" y="523" width="3" height="11" fill="#c0c0c0" />
<rect x="187" y="523" width="3" height="10" fill="#c0c0c0" />
<rect x="191" y="523" width="3" height="10" fill="#c0c0c0" />
<rect x="195" y="523" width="3" height="8" fill="#c0c0c0" />
<rect x="199" y="523" width="3" height="8" fill="#c0c0c0" />
<rect x="203" y="523" width="3" height="11" fill="#c0c0c0" />
<rect x="207" y="523" width="3" height="14" fill="#c0c0c0" />
<rect x="211" y="523" width="3" height="13" fill="#c0c0c0" />
<rect x="215" y="523" width="3" height="13" fill="#c0c0c0" />
<rect x="219" y="523" width="3" height="13" fill="#c0c0c0" />
<rect x="223" y="523" width="3" height="11" fill="#c0c0c0" />
<rect x="227" y="523" width="3" height="11" fill="#c0c0c0" />
<rect x="231" y="523" width="3" height="13" fill="#c0c0c0" />
<rect x="235" y="523" width="3" height="15" fill="#c0c0c0" />
<rect x="239" y="523" width="3" height="18" fill="#c0c0c0" />
<rect x="243" y="523" width="3" height="20" fill="#c0c0c0" />
<rect x="247" y="523" width="3" height="22" fill="#c0c0c0" />
<rect x="251" y="523" width="3" height="24" fill="#c0c0c0" />
<rect x="255" y="523" width="3" height="25" fill="#c0c0c0" />
<rect x="259" y="523" width="3" height="27" fill="#c0c0c0" />
<rect x="263" y="523" width="3" height="26" fill="#c0c0c0" />
<rect x="267" y="523" width="3" height="22" fill="#c0c0c0" />
<rect x="271" y="523" width="3" height="17" fill="#c0c0c0" />
<rect x="275" y="523" width="3" height="14" fill="#c0c0c0" />
<rect x="279" y="523" width="3" height="11" fill="#c0c0c0" />
<rect x="283" y="523" width="3" height="7" fill="#c0c0c0" />
<rect x="287" y="523" width="3" height="5" fill="#c0c0c0" />
<rect x="291" y="523" width="3" height="4" fill="#c0c0c0" />
<rect x="295" y="523" width="3" height="3" fill="#c0c0c0" />
<rect x="299" y="522" width="3" height="1" fill="#c0c0c0" />
<rect x="303" y="519" width="3" height="4" fill="#c0c0c0" />
<rect x="307" y="519" width="3" height="4" fill="#c0c0c0" />
<rect x="311" y="517" width="3" height="6" fill="#c0c0c0" />
<rect x="315" y="517" width="3" height="6" fill="#c0c0c0" />
<rect x="319" y="516" width="3" height="7" fill="#c0c0c0" />
<rect x="323" y="511" width="3" height="12" fill="#c0c0c0" />
<rect x="327" y="507" width="3" height="16" fill="#c0c0c0" />
<rect x="331" y="501" width="3" height="22" fill="#c0c0c0" />
<rect x="335" y="499" width="3" height="24" fill="#c0c0c0" />
<rect x="339" y="499" width="3" height="24" fill="#c0c0c0" />
<rect x="343" y="502" width="3" height="21" fill="#c0c0c0" />
<rect x="347" y="503" width="3" height="20" fill="#c0c0c0" />
<rect x="351" y="505" width="3" height="18" fill="#c0c0c0" />
<rect x="355" y="505" width="3" height="18" fill="#c0c0c0" />
<rect x="359" y="506" width="3" height="17" fill="#c0c0c0" />
<rect x="363" y="506" width="3" height="17" fill="#c0c0c0" />
<rect x="367" y="507" width="3" height="16" fill="#c0c0c0" />
<rect x="371" y="507" width="3" height="16" fill="#c0c0c0" />
<rect x="375" y="508" width="3" height="15" fill="#c0c0c0" />
<rect x="379" y="509" width="3" height="14" fill="#c0c0c0" />
<rect x="383" y="509" width="3" height="14" fill="#c0c0c0" />
<rect x="387" y="508" width="3" height="15" fill="#c0c0c0" />
<rect x="391" y="504" width="3" height="19" fill="#c0c0c0" />
<rect x="395" y="502" width="3" height="21" fill="#c0c0c0" />
<rect x="399" y="501" width="3" height="22" fill="#c0c0c0" />
<rect x="403" y="497" width="3" height="26" fill="#c0c0c0" />
<rect x="407" y="493" width="3" height="30" fill="#c0c0c0" />
<rect x="411" y="493" width="3" height="30" fill="#c0c0c0" />
<rect x="415" y="491" width="3" height="32" fill="#c0c0c0" />
<rect x="419" y="490" width="3" height="33" fill="#c0c0c0" />
<rect x="423" y="490" width="3" height="33" fill="#c0c0c0" />
<rect x="427" y="492" width="3" height="31" fill="#c0c0c0" />
<rect x="431" y="496" width="3" height="27" fill="#c0c0c0" />
<rect x="435" y="499" width="3" height="24" fill="#c0c0c0" />
<rect x="439" y="499" width="3" height="24" fill="#c0c0c0" />
<rect x="443" y="501" width="3" height="22" fill="#c0c0c0" />
<rect x="447" y="502" width="3" height="21" fill="#c0c0c0" />
<rect x="451" y="504" width="3" height="19" fill="#c0c0c0" />
<rect x="455" y="506" width="3" height="17" fill="#c0c0c0" />
<rect x="459" y="510" width="3" height="13" fill="#c0c0c0" />
<rect x="463" y="513" width="3" height="10" fill="#c0c0c0" />
<rect x="467" y="516" width="3" height="7" fill="#c0c0c0" />
<rect x="471" y="519" width="3" height="4" fill="#c0c0c0" />
<rect x="475" y="522" width="3" height="1" fill="#c0c0c0" />
<rect x="479" y="523" width="3" height="4" fill="#c0c0c0" />
<rect x="483" y="523" width="3" height="9" fill="#c0c0c0" />
<rect x="487" y="523" width="3" height="12" fill="#c0c0c0" />
<rect x="491" y="523" width="3" height="14" fill="#c0c0c0" />
<rect x="495" y="523" width="3" height="16" fill="#c0c0c0" />
<rect x="499" y="523" width="3" height="19" fill="#c0c0c0" />
<rect x="503" y="523" width="3" height="21" fill="#c0c0c0" />
<rect x="507" y="523" width="3" height="22" fill="#c0c0c0" />
<rect x="511" y="523" width="3" height="24" fill="#c0c0c0" />
<rect x="515" y="523" width="3" height="25" fill="#c0c0c0" />
<rect x="519" y="523" width="3" height="25" fill="#c0c0c0" />
<rect x="523" y="523" width="3" height="25" fill="#c0c0c0" />
<rect x="527" y="523" width="3" height="22" fill="#c0c0c0" />
<rect x="531" y="523" width="3" height="22" fill="#c0c0c0" />
<rect x="535" y="523" width="3" height="22" fill="#c0c0c0" />
<rect x="539" y="523" width="3" height="27" fill="#c0c0c0" />
<rect x="543" y="523" width="3" height="31" fill="#c0c0c0" />
<rect x="547" y="523" width="3" height="35" fill="#c0c0c0" />
<rect x="551" y="523" width="3" height="35" fill="#c0c0c0" />
<rect x="555" y="523" width="3" height="31" fill="#c0c0c0" />
<rect x="559" y="523" width="3" height="30" fill="#c0c0c0" />
<rect x="563" y="523" width="3" height="28" fill="#c0c0c0" />
<rect x="567" y="523" width="3" height="28" fill="#c0c0c0" />
<rect x="571" y="523" width="3" height="27" fill="#c0c0c0" />
<rect x="575" y="523" width="3" height="28" fill="#c0c0c0" />
<rect x="579" y="523" width="3" height="27" fill="#c0c0c0" />
<rect x="583" y="523" width="3" height="26" fill="#c0c0c0" />
<rect x="587" y="523" width="3" height="24" fill="#c0c0c0" />
<rect x="591" y="523" width="3" height="24" fill="#c0c0c0" />
<rect x="595" y="523" width="3" height="22" fill="#c0c0c0" />
<rect x="599" y="523" width="3" height="24" fill="#c0c0c0" />
<rect x="603" y="523" width="3" height="29" fill="#c0c0c0" />
<rect x="607" y="523" width="3" height="33" fill="#c0c0c0" />
<rect x="611" y="523" width="3" height="35" fill="#c0c0c0" />
<rect x="615" y="523" width="3" height="39" fill="#c0c0c0" />
<rect x="619" y="523" width="3" height="39" fill="#c0c0c0" />
<rect x="623" y="523" width="3" height="39" fill="#c0c0c0" />
<rect x="627" y="523" width="3" height="37" fill="#c0c0c0" />
<rect x="631" y="523" width="3" height="35" fill="#c0c0c0" />
<rect x="635" y="523" width="3" height="31" fill="#c0c0c0" />
<rect x="639" y="523" width="3" height="30" fill="#c0c0c0" />
<rect x="643" y="523" width="3" height="28" fill="#c0c0c0" />
<rect x="647" y="523" width="3" height="26" fill="#c0c0c0" />
<rect x="651" y="523" width="3" height="24" fill="#c0c0c0" />
<rect x="655" y="523" width="3" height="22" fill="#c0c0c0" />
<rect x="659" y="523" width="3" height="20" fill="#c0c0c0" />
<rect x="663" y="523" width="3" height="19" fill="#c0c0c0" />
<rect x="667" y="523" width="3" height="16" fill="#c0c0c0" />
<rect x="671" y="523" width="3" height="13" fill="#c0c0c0" />
<rect x="675" y="523" width="3" height="12" fill="#c0c0c0" />
<rect x="679" y="523" width="3" height="5" fill="#c0c0c0" />
<rect x="683" y="520" width="3" height="3" fill="#c0c0c0" />
<rect x="687" y="516" width="3" height="7" fill="#c0c0c0" />
<rect x="691" y="510" width="3" height="13" fill="#c0c0c0" />
<rect x="695" y="505" width="3" height="18" fill="#c0c0c0" />
<rect x="699" y="502" width="3" height="21" fill="#c0c0c0" />
<rect x="703" y="500" width="3" height="23" fill="#c0c0c0" />
<rect x="707" y="500" width="3" height="23" fill="#c0c0c0" />
<rect x="711" y="500" width="3" height="23" fill="#c0c0c0" />
<rect x="715" y="501" width="3" height="22" fill="#c0c0c0" />
<rect x="719" y="501" width="3" height="22" fill="#c0c0c0" />
<rect x="723" y="503" width="3" height="20" fill="#c0c0c0" />
<rect x="727" y="502" width="3" height="21" fill="#c0c0c0" />
<rect x="731" y="502" width="3" height="21" fill="#c0c0c0" />
<rect x="735" y="502" width="3" height="21" fill="#c0c0c0" />
<rect x="739" y="503" width="3" height="20" fill="#c0c0c0" />
<rect x="743" y="502" width="3" height="21" fill="#c0c0c0" />
<rect x="747" y="502" width="3" height="21" fill="#c0c0c0" />
<rect x="751" y="501" width="3" height="22" fill="#c0c0c0" />
<rect x="755" y="501" width="3" height="22" fill="#c0c0c0" />
<rect x="759" y="503" width="3" height="20" fill="#c0c0c0" />
<rect x="763" y="503" width="3" height="20" fill="#c0c0c0" />
<rect x="767" y="505" width="3" height="18" fill="#c0c0c0" />
<rect x="771" y="508" width="3" height="15" fill="#c0c0c0" />
<rect x="775" y="510" width="3" height="13" fill="#c0c0c0" />
<rect x="779" y="510" width="3" height="13" fill="#c0c0c0" />
<rect x="783" y="511" width="3" height="12" fill="#c0c0c0" />
<rect x="787" y="510" width="3" height="13" fill="#c0c0c0" />
<rect x="791" y="508" width="3" height="15" fill="#c0c0c0" />
<rect x="795" y="512" width="3" height="11" fill="#c0c0c0" />
<rect x="799" y="512" width="3" height="11" fill="#c0c0c0" />
<rect x="803" y="512" width="3" height="11" fill="#c0c0c0" />
<rect x="807" y="513" width="3" height="10" fill="#c0c0c0" />
<rect x="811" y="513" width="3" height="10" fill="#c0c0c0" />
<rect x="815" y="509" width="3" height="14" fill="#c0c0c0" />
<rect x="819" y="508" width="3" height="15" fill="#c0c0c0" />
<rect x="823" y="512" width="3" height="11" fill="#c0c0c0" />
<rect x="827" y="515" width="3" height="8" fill="#c0c0c0" />
<rect x="831" y="517" width="3" height="6" fill="#c0c0c0" />
<rect x="835" y="519" width="3" height="4" fill="#c0c0c0" />
<rect x="839" y="520" width="3" height="3" fill="#c0c0c0" />
<rect x="843" y="522" width="3" height="1" fill="#c0c0c0" />
<rect x="847" y="523" width="3" height="2" fill="#c0c0c0" />
<rect x="851" y="522" width="3" height="1" fill="#c0c0c0" />
<rect x="855" y="522" width="3" height="1" fill="#c0c0c0" />
<rect x="859" y="520" width="3" height="3" fill="#c0c0c0" />
<rect x="863" y="519" width="3" height="4" fill="#c0c0c0" />
<rect x="867" y="519" width="3" height="4" fill="#c0c0c0" />
<rect x="871" y="520" width="3" height="3" fill="#c0c0c0" />
<rect x="875" y="520" width="3" height="3" fill="#c0c0c0" />
<rect x="879" y="520" width="3" height="3" fill="#c0c0c0" />
<rect x="883" y="520" width="3" height="3" fill="#c0c0c0" />
<rect x="887" y="518" width="3" height="5" fill="#c0c0c0" />
<rect x="891" y="518" width="3" height="5" fill="#c0c0c0" />
<rect x="895" y="516" width="3" height="7" fill="#c0c0c0" />
<rect x="899" y="514" width="3" height="9" fill="#c0c0c0" />
<rect x="903" y="513" width="3" height="10" fill="#c0c0c0" />
<rect x="907" y="515" width="3" height="8" fill="#c0c0c0" />
<rect x="911" y="518" width="3" height="5" fill="#c0c0c0" />
<rect x="915" y="519" width="3" height="4" fill="#c0c0c0" />
<rect x="919" y="520" width="3" height="3" fill="#c0c0c0" />
<rect x="923" y="520" width="3" height="3" fill="#c0c0c0" />
</g>
<polyline points="4,565.6 15,559.9 26.5,560.2 27.3,561.5 49.5,561.5 54.6,559 60,556.5 79.5,549.5 91.4,546 103.3,542.6 113.3,542.6 123.2,545.6 135,550.5 149,555 159,552.5 171,547.5 182.8,542.6 190.7,537.6 202.7,534.2 210.6,533.2 224.5,533.2 232.5,534.6 238,535.7 244,536.3 253.9,538.6 267.8,544.2 277.7,544.2 291.6,536.7 305.6,527.7 317.5,521.8 325.4,518.8 335.4,511.8 347.3,505.9 355.2,503.3 369.1,503.3 385,507.3 401,505.9 412.8,501.9 426.7,494.5 436.7,493.3 448.6,496.5 460.5,501.9 468.5,505.9 478,510.8 482,513.8 490,520.8 497.9,526.7 505.8,533.7 513.8,539 521.7,542.6 531.6,544.6 539.6,545.6 549.5,548.6 561.4,551 573.4,553.5 581.3,552.2 593.2,548.6 605.2,548.6 617,551.6 627,555.5 637,558.5 644.9,557.5 652.8,553.5 664.8,547.6 676.7,542.6 686.6,534.7 696.6,524.7 706.5,513.8 718,504.7 726,501.3 741.8,501.3 745.8,502.5 769.7,502.5 781.6,505.3 793.5,507.8 799.5,509.8 807.4,510.8 825.3,511.2 837.2,513.2 847.1,515.8 855.1,519.2 861,520.8 877,521.2 884.9,520.4 892.8,519.2 904.8,518.4 908.7,517.2 923.6,517.2" fill="none" stroke="#ff0000" stroke-width="1" clip-path="url(#cd)" shape-rendering="crispEdges"/>
<text x="8.3" y="498" font-size="10" fill="#000" stroke="#000" stroke-width="0.2" textLength="147.7" lengthAdjust="spacingAndGlyphs" >MACD(12,26,9) 0.001778 0.003895</text>
<rect x="1167" y="487" width="2" height="1" fill="#000" />
<text x="1170" y="495.5" font-size="10" fill="#000" stroke="#000" stroke-width="0.2" textLength="38" lengthAdjust="spacingAndGlyphs" >0.025209</text>
<rect x="1167" y="523" width="2" height="1" fill="#000" />
<text x="1170" y="527.2" font-size="10" fill="#000" stroke="#000" stroke-width="0.2" textLength="17" lengthAdjust="spacingAndGlyphs" >0.00</text>
<rect x="1167" y="568" width="2" height="1" fill="#000" />
<text x="1170" y="566" font-size="10" fill="#000" stroke="#000" stroke-width="0.2" textLength="40" lengthAdjust="spacingAndGlyphs" >-0.031994</text>
<line x1="5" y1="598.5" x2="1166" y2="598.5" stroke="#c0c0c0" stroke-width="1" stroke-dasharray="3,3"/>
<line x1="5" y1="632.5" x2="1166" y2="632.5" stroke="#c0c0c0" stroke-width="1" stroke-dasharray="3,3"/>
<polyline points="4,625.3 8,626.7 12,629.1 16,631.7 20,632.3 24,630.7 28,630.3 32,628.7 36,623.1 40,622.8 44,623.1 48,624.3 52,626.3 56,628.7 60,627.1 64,626.7 68,624.7 72,620.4 76,617.2 80,619.2 84,624.3 88,624.3 92,617.2 96,620.8 100,625.7 104,627.1 108,626.3 112,625.7 116,632.3 120,635.7 124,632.7 128,625.7 132,628.3 136,625.7 140,621.8 144,624.7 148,624.7 152,622.4 156,619.8 160,618.4 164,616.8 168,617.8 172,621.8 176,621.2 180,615.8 184,613.4 188,614.4 192,619.8 196,615.2 200,617.8 204,623.7 208,622.4 212,617.2 216,619.2 220,619.8 224,617.2 228,619.2 232,619.8 236,622.4 240,625.7 244,624.3 248,626.3 252,625.7 256,625.7 260,628.3 264,623.7 268,616.8 272,611.8 276,614.4 280,613.2 284,610.8 288,612.8 292,614.8 296,613.2 300,610.8 304,608.4 308,613.2 312,611.2 316,612.4 320,611.8 324,603.9 328,604.5 332,599.3 336,605.9 340,608.4 344,613.8 348,611.2 352,612.4 356,611.2 360,611.2 364,610.4 368,611.2 372,609.2 376,610.8 380,612.4 384,609.8 388,606.9 392,601.9 396,604.5 400,604.5 404,598.5 408,598.5 412,602.5 416,600.5 420,601.3 424,601.3 428,604.9 432,612.4 436,611.8 440,608.4 444,607.9 448,608.4 452,609.8 456,612.4 460,616.8 464,619.2 468,619.8 472,619.2 476,622.4 480,626.3 484,628.7 488,629.1 492,629.1 496,629.1 500,632.7 504,631.1 508,632.3 512,633.7 516,632.3 520,630.3 524,630.3 528,622.4 532,622.4 536,629.1 540,637.1 544,638.2 548,639 552,632.7 556,621.8 560,621.2 564,624.3 568,624.3 572,622.4 576,627.1 580,625.1 584,624.3 588,621.8 592,622.4 596,627.7 600,629.1 604,632.3 608,634.3 612,635.7 616,637.1 620,633.7 624,628.7 628,629.1 632,621.8 636,623.1 640,623.1 644,623.1 648,620.4 652,623.1 656,621.8 660,619.2 664,619.8 668,617.2 672,614.4 676,618.8 680,604.5 684,603.3 688,603.3 692,600.5 696,598.5 700,601.9 704,602.5 708,606.5 712,607.3 716,607.9 720,606.5 724,606.5 728,604.5 732,603.3 736,604.5 740,608.8 744,604.5 748,606.9 752,602.5 756,605.9 760,606.9 764,608.4 768,612.8 772,614.4 776,615.2 780,608.4 784,610.8 788,607.9 792,608.4 796,615.8 800,612.8 804,610.4 808,613.2 812,611.2 816,601.9 820,606.9 824,618.8 828,617.2 832,617.2 836,617.2 840,617.2 844,618.4 848,619.2 852,612.8 856,613.2 860,611.2 864,611.2 868,612.8 872,614.4 876,614.4 880,615.2 884,615.2 888,608.8 892,611.8 896,608.4 900,606.5 904,607.3 908,614.4 912,617.8 916,618.4 920,615.8 924,614.4" fill="none" stroke="#1e90ff" stroke-width="1" clip-path="url(#cr)" shape-rendering="crispEdges"/>
<text x="7.9" y="584.5" font-size="10" fill="#000" stroke="#000" stroke-width="0.2" textLength="67.6" lengthAdjust="spacingAndGlyphs" >RSI(14) 50.8661</text>
<rect x="1167" y="573" width="2" height="1" fill="#000" />
<text x="1170.3" y="581.8" font-size="10" fill="#000" stroke="#000" stroke-width="0.2" textLength="14.4" lengthAdjust="spacingAndGlyphs" >100</text>
<text x="1169.2" y="601.8" font-size="10" fill="#000" stroke="#000" stroke-width="0.2" textLength="9.5" lengthAdjust="spacingAndGlyphs" >70</text>
<text x="1169" y="635.7" font-size="10" fill="#000" stroke="#000" stroke-width="0.2" textLength="9.8" lengthAdjust="spacingAndGlyphs" >30</text>
<rect x="1167" y="658" width="2" height="1" fill="#000" />
<text x="1170" y="654.6" font-size="10" fill="#000" stroke="#000" stroke-width="0.2" textLength="5" lengthAdjust="spacingAndGlyphs" >0</text>
<rect x="4" y="659" width="1" height="3" fill="#000" />
<text x="3.5" y="671" font-size="10" fill="#000" stroke="#000" stroke-width="0.2" textLength="47.1" lengthAdjust="spacingAndGlyphs" >1 Dec 2020</text>
<rect x="68" y="659" width="1" height="3" fill="#000" />
<text x="67.5" y="671" font-size="10" fill="#000" stroke="#000" stroke-width="0.2" textLength="52.2" lengthAdjust="spacingAndGlyphs" >19 Dec 2020</text>
<rect x="132" y="659" width="1" height="3" fill="#000" />
<text x="131.5" y="671" font-size="10" fill="#000" stroke="#000" stroke-width="0.2" textLength="45.5" lengthAdjust="spacingAndGlyphs" >8 Jan 2021</text>
<rect x="196" y="659" width="1" height="3" fill="#000" />
<text x="195.5" y="671" font-size="10" fill="#000" stroke="#000" stroke-width="0.2" textLength="50.7" lengthAdjust="spacingAndGlyphs" >27 Jan 2021</text>
<rect x="260" y="659" width="1" height="3" fill="#000" />
<text x="259.5" y="671" font-size="10" fill="#000" stroke="#000" stroke-width="0.2" textLength="51.7" lengthAdjust="spacingAndGlyphs" >15 Feb 2021</text>
<rect x="324" y="659" width="1" height="3" fill="#000" />
<text x="323.5" y="671" font-size="10" fill="#000" stroke="#000" stroke-width="0.2" textLength="46.5" lengthAdjust="spacingAndGlyphs" >5 Mar 2021</text>
<rect x="388" y="659" width="1" height="3" fill="#000" />
<text x="387.5" y="671" font-size="10" fill="#000" stroke="#000" stroke-width="0.2" textLength="51.7" lengthAdjust="spacingAndGlyphs" >24 Mar 2021</text>
<rect x="452" y="659" width="1" height="3" fill="#000" />
<text x="451.5" y="671" font-size="10" fill="#000" stroke="#000" stroke-width="0.2" textLength="49.6" lengthAdjust="spacingAndGlyphs" >12 Apr 2021</text>
<rect x="516" y="659" width="1" height="3" fill="#000" />
<text x="515.5" y="671" font-size="10" fill="#000" stroke="#000" stroke-width="0.2" textLength="49.6" lengthAdjust="spacingAndGlyphs" >30 Apr 2021</text>
<rect x="580" y="659" width="1" height="3" fill="#000" />
<text x="579.5" y="671" font-size="10" fill="#000" stroke="#000" stroke-width="0.2" textLength="53.2" lengthAdjust="spacingAndGlyphs" >19 May 2021</text>
<rect x="644" y="659" width="1" height="3" fill="#000" />
<text x="643.5" y="671" font-size="10" fill="#000" stroke="#000" stroke-width="0.2" textLength="45.5" lengthAdjust="spacingAndGlyphs" >7 Jun 2021</text>
<rect x="708" y="659" width="1" height="3" fill="#000" />
<text x="707.5" y="671" font-size="10" fill="#000" stroke="#000" stroke-width="0.2" textLength="50.7" lengthAdjust="spacingAndGlyphs" >25 Jun 2021</text>
<rect x="772" y="659" width="1" height="3" fill="#000" />
<text x="771.5" y="671" font-size="10" fill="#000" stroke="#000" stroke-width="0.2" textLength="47.6" lengthAdjust="spacingAndGlyphs" >14 Jul 2021</text>
<rect x="836" y="659" width="1" height="3" fill="#000" />
<text x="835.5" y="671" font-size="10" fill="#000" stroke="#000" stroke-width="0.2" textLength="46.6" lengthAdjust="spacingAndGlyphs" >2 Aug 2021</text>
<rect x="900" y="659" width="1" height="3" fill="#000" />
<text x="899.5" y="671" font-size="10" fill="#000" stroke="#000" stroke-width="0.2" textLength="51.7" lengthAdjust="spacingAndGlyphs" >20 Aug 2021</text>
<rect x="0" y="679" width="1208" height="1" fill="#f0f0f0" />
<rect x="0" y="680" width="1208" height="1" fill="#f0f0f0" />
<rect x="0" y="681" width="1208" height="1" fill="#000000" />
<rect x="0" y="682" width="1208" height="18" fill="#eeeeee" />
<rect x="0" y="700" width="1208" height="4" fill="#f8f8f8" />
<rect x="0" y="704" width="1208" height="2" fill="#a0a0a0" />
<rect x="0" y="682" width="1" height="18" fill="#696969" />
<text x="17" y="696" font-size="12" fill="#6d6d6d" textLength="68" lengthAdjust="spacingAndGlyphs" >EURUSD,H4</text>
<text x="108" y="696" font-size="12" fill="#6d6d6d" textLength="82" lengthAdjust="spacingAndGlyphs" >AUDUSD,Daily</text>
<text x="211" y="696" font-size="12" fill="#6d6d6d" textLength="67" lengthAdjust="spacingAndGlyphs" >USDCHF,H4</text>
<text x="300" y="696" font-size="12" fill="#6d6d6d" textLength="81" lengthAdjust="spacingAndGlyphs" >USDCAD,Daily</text>
<text x="509.5" y="696" font-size="12" fill="#6d6d6d" textLength="51" lengthAdjust="spacingAndGlyphs" >UKOil,H1</text>
<text x="583" y="696" font-size="12" fill="#6d6d6d" textLength="47" lengthAdjust="spacingAndGlyphs" >DJ30,H1</text>
<text x="653" y="696" font-size="12" fill="#6d6d6d" textLength="52" lengthAdjust="spacingAndGlyphs" >USDX,H1</text>
<text x="727.6" y="696" font-size="12" fill="#6d6d6d" textLength="69.5" lengthAdjust="spacingAndGlyphs" >XAUUSD,H1</text>
<text x="821" y="696" font-size="12" fill="#6d6d6d" textLength="67.6" lengthAdjust="spacingAndGlyphs" >GBPUSD,H1</text>
<rect x="97" y="685" width="1" height="13" fill="#6d6d6d" />
<rect x="201" y="685" width="1" height="13" fill="#6d6d6d" />
<rect x="290" y="685" width="1" height="13" fill="#6d6d6d" />
<rect x="573" y="685" width="1" height="13" fill="#6d6d6d" />
<rect x="641" y="685" width="1" height="13" fill="#6d6d6d" />
<rect x="717" y="685" width="1" height="13" fill="#6d6d6d" />
<rect x="809" y="685" width="1" height="13" fill="#6d6d6d" />
<rect x="901" y="685" width="1" height="13" fill="#6d6d6d" />
<rect x="393" y="681" width="105" height="19" fill="#ffffff" />
<path d="M393.5,681 V699.5 H497.5 V681" fill="none" stroke="#000" stroke-width="1"/>
<text x="403" y="696" font-size="12" fill="#000" textLength="83" lengthAdjust="spacingAndGlyphs" >USDCNH,Daily</text>
<path d="M1181,690 L1185,686.5 L1185,693.5 Z" fill="#909090"/>
<path d="M1204,690 L1200,686.5 L1200,693.5 Z" fill="#909090"/>
<defs><linearGradient id="gtab" x1="0" y1="0" x2="0" y2="1"><stop offset="0" stop-color="#f85656"/><stop offset="1" stop-color="#e02c2c"/></linearGradient><linearGradient id="gbox" x1="0" y1="0" x2="0" y2="1"><stop offset="0" stop-color="#dc2828"/><stop offset="1" stop-color="#a80000"/></linearGradient><linearGradient id="gbtn" x1="0" y1="0" x2="0" y2="1"><stop offset="0" stop-color="#f2f2f2"/><stop offset="0.45" stop-color="#e8e8e8"/><stop offset="0.5" stop-color="#d9d9d9"/><stop offset="1" stop-color="#d4d4d4"/></linearGradient></defs>
<rect x="5" y="41" width="223" height="60" fill="#ffffff" />
<path d="M7.5,43.5 H58.5 V67.5 H115.5 V99.5 H7.5 Z" fill="url(#gbox)" stroke="#a80000" stroke-width="1"/>
<rect x="8" y="44" width="50" height="23" fill="url(#gtab)"/>
<rect x="11" y="66" width="44" height="1" fill="#8a0000" />
<rect x="11" y="67" width="44" height="1" fill="#f07070" />
<path d="M174.5,43.5 H225.5 V99.5 H118.5 V67.5 H174.5 Z" fill="url(#gbox)" stroke="#a80000" stroke-width="1"/>
<rect x="175" y="44" width="50" height="23" fill="url(#gtab)"/>
<rect x="178" y="66" width="44" height="1" fill="#8a0000" />
<rect x="178" y="67" width="44" height="1" fill="#f07070" />
<rect x="61.5" y="43.5" width="110" height="21" fill="#fff" stroke="#a4a8b0" stroke-width="1"/>
<rect x="63" y="45" width="18" height="18" fill="url(#gbtn)"/>
<rect x="152" y="45" width="18" height="18" fill="url(#gbtn)"/>
<rect x="82" y="44" width="1" height="20" fill="#a4a8b0" />
<rect x="150" y="44" width="1" height="20" fill="#a4a8b0" />
<path d="M69,52 L75,52 L72,55.5 Z" fill="#4a5cc0"/>
<path d="M158,55 L164,55 L161,51.5 Z" fill="#4a5cc0"/>
<text x="147" y="59" font-size="12" fill="#000" text-anchor="end" >3.00</text>
<text x="19.5" y="59" font-size="11.7" fill="#fff" textLength="25.5" lengthAdjust="spacingAndGlyphs" >SELL</text>
<text x="187.5" y="59" font-size="11.7" fill="#fff" textLength="23.3" lengthAdjust="spacingAndGlyphs" >BUY</text>
<text x="27" y="95" font-size="11.5" fill="#fff" textLength="24" lengthAdjust="spacingAndGlyphs" font-weight="bold" >6.48</text>
<text x="56" y="95" font-size="33" fill="#fff" textLength="32" lengthAdjust="spacingAndGlyphs" >11</text>
<text x="94" y="78.7" font-size="11.5" fill="#fff" textLength="7" lengthAdjust="spacingAndGlyphs" font-weight="bold" >6</text>
<text x="137" y="95" font-size="11.5" fill="#fff" textLength="24" lengthAdjust="spacingAndGlyphs" font-weight="bold" >6.48</text>
<text x="165" y="95" font-size="33" fill="#fff" textLength="35" lengthAdjust="spacingAndGlyphs" >40</text>
<text x="206" y="78.7" font-size="11.5" fill="#fff" textLength="6.5" lengthAdjust="spacingAndGlyphs" font-weight="bold" >7</text></svg>
</body></html>
